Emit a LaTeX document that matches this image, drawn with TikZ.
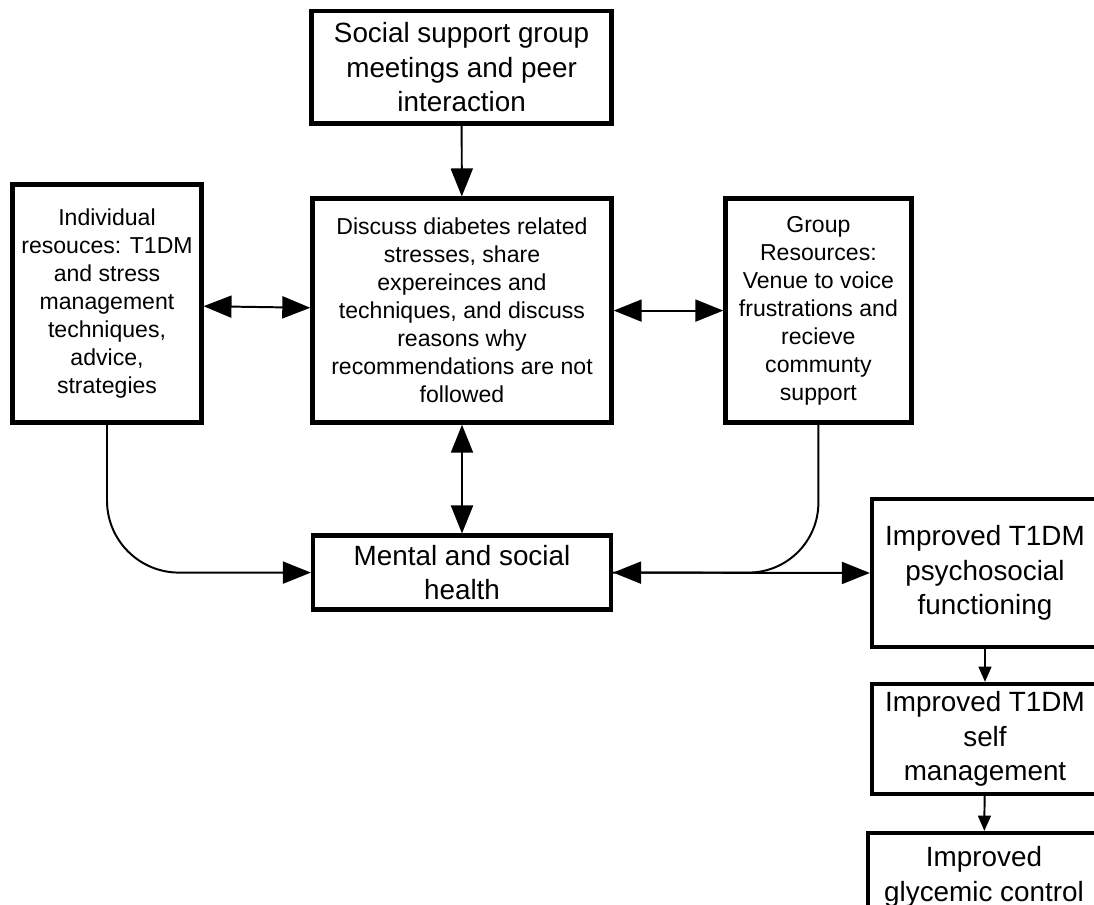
\documentclass[tikz,border=0pt]{standalone}
\usepackage{fontspec}
\setmainfont{Liberation Sans}
\usetikzlibrary{arrows.meta}
\begin{document}
\begin{tikzpicture}[
	box/.style={draw, line width=3pt, align=center, inner sep=0pt},
	big/.style={font=\fontsize{19.8}{24.5}\selectfont},
	small/.style={font=\fontsize{16.4}{19.9}\selectfont},
	link/.style={line width=1.4pt, -{Triangle[length=0.7cm, width=0.55cm]}},
	both/.style={line width=1.4pt, {Triangle[length=0.7cm, width=0.55cm]}-{Triangle[length=0.7cm, width=0.55cm]}},
	shortlink/.style={line width=1.4pt, -{Triangle[length=0.38cm, width=0.32cm]}}
]
	\useasboundingbox (0, 0) rectangle (27.35, 22.625);
	\clip (0, 0) rectangle (27.35, 22.625);
	% boxes
	\node[box, big, minimum width=7.5cm, minimum height=2.8cm] (meet) at (11.54, 20.94) {Social support group\\meetings and peer\\interaction};
	\node[box, small, minimum width=7.48cm, minimum height=5.6cm] (disc) at (11.55, 14.86) {Discuss diabetes related\\stresses, share\\expereinces and\\techniques, and discuss\\reasons why\\recommendations are not\\followed};
	\node[box, small, minimum width=4.72cm, minimum height=5.95cm] (indiv) at (2.675, 15.04) {Individual\\resouces: T1DM\\and stress\\management\\techniques,\\advice,\\strategies};
	\node[box, small, minimum width=4.65cm, minimum height=5.6cm] (group) at (20.46, 14.86) {Group\\Resources:\\Venue to voice\\frustrations and\\recieve\\communty\\support};
	\node[box, big, minimum width=7.45cm, minimum height=1.85cm] (mental) at (11.55, 8.31) {Mental and social\\health};
	\node[box, big, minimum width=5.65cm, minimum height=3.7cm] (psycho) at (24.625, 8.3) {Improved T1DM\\psychosocial\\functioning};
	\node[box, big, minimum width=5.65cm, minimum height=2.75cm] (selfman) at (24.625, 4.15) {Improved T1DM\\self\\management};
	\node[box, big, minimum width=5.8cm, minimum height=2.2cm] (glyc) at (24.6, 0.7) {Improved\\glycemic control};
	% connectors
	\draw[link] (meet) -- (disc);
	\draw[both] ([yshift=-2pt]indiv.east) -- ([yshift=2pt]disc.west);
	\draw[both] (disc.east) -- (group.west);
	\draw[both] (disc) -- (mental);
	\draw[link, rounded corners=1.8cm] (indiv.south) |- (mental.west);
	\draw[line width=1.4pt, rounded corners=1.75cm] (group.south) |- (mental.east);
	\draw[both] (mental.east) -- (psycho.west);
	\draw[shortlink] (psycho) -- (selfman);
	\draw[shortlink] (selfman) -- (glyc);
\end{tikzpicture}
\end{document}
